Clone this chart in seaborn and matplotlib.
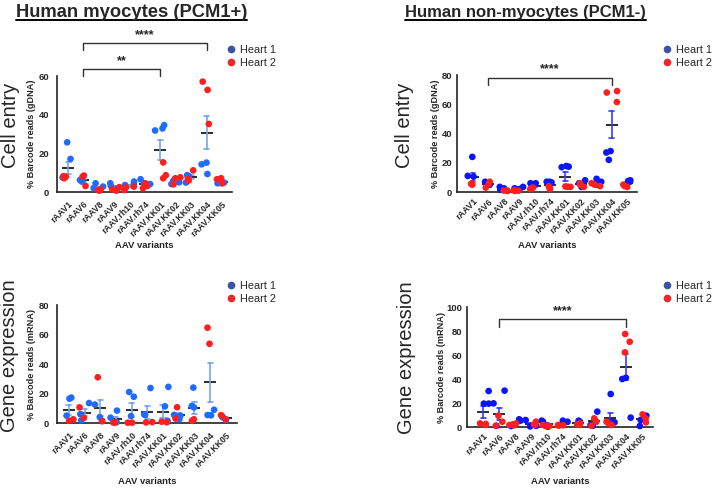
import numpy as np
import pandas as pd
import matplotlib
matplotlib.use('Agg')
import matplotlib.pyplot as plt
import seaborn as sns
from matplotlib.lines import Line2D

# ---- data ----
variants = ['rAAV1', 'rAAV6', 'rAAV8', 'rAAV9', 'rAAV.rh10', 'rAAV.rh74',
            'rAAV.KK01', 'rAAV.KK02', 'rAAV.KK03', 'rAAV.KK04', 'rAAV.KK05']

# Human myocytes, cell entry (% barcode reads, gDNA)
myo_entry_h1 = [[25.7, 17.1, 7.5], [6.2, 5.4, 5.9], [4.5, 2.8, 2.0], [4.5, 3.1, 2.0],
                [4.1, 5.4, 3.6], [6.6, 4.5, 4.1], [32.9, 34.6, 31.8], [5.9, 5.0, 4.1],
                [8.2, 8.7, 4.9], [15.2, 14.3, 9.3], [4.5, 4.6, 4.9]]
myo_entry_h2 = [[7.9, 7.1, 8.2], [8.5, 7.9, 3.1], [1.4, 1.0, 0.7], [2.5, 1.4, 0.7],
                [1.0, 2.5, 2.8], [4.5, 3.1, 2.0], [15.3, 8.7, 7.1], [7.1, 7.6, 4.0],
                [11.2, 7.1, 5.9], [57.1, 52.8, 35.2], [7.1, 6.6, 4.5]]

# Human non-myocytes, cell entry
nonmyo_entry_h1 = [[24.0, 11.0, 10.5], [7.0, 5.0, 6.0], [3.5, 2.5, 1.5], [3.5, 2.5, 2.0],
                   [6.0, 6.0, 5.0], [7.0, 7.0, 6.5], [17.3, 17.8, 17.0], [8.0, 6.0, 3.5],
                   [9.0, 7.0, 5.0], [28.0, 27.0, 22.0], [8.0, 7.5, 7.0]]
nonmyo_entry_h2 = [[5.0, 6.0, 5.5], [3.0, 7.0, 5.5], [1.0, 0.7, 1.0], [1.3, 0.9, 0.7],
                   [2.0, 2.5, 3.0], [2.0, 2.5, 4.0], [3.6, 3.5, 3.8], [6.0, 5.0, 3.5],
                   [6.0, 5.0, 4.0], [68.0, 69.0, 61.5], [5.0, 4.0, 3.5]]

# Human myocytes, gene expression (% barcode reads, mRNA)
myo_expr_h1 = [[16.5, 17.2, 5.0], [13.5, 6.0, 1.8], [12.5, 4.0, 1.5], [8.4, 3.6, 0.5],
               [21.0, 17.8, 4.7], [23.7, 5.5, 5.8], [24.5, 11.3, 1.5], [5.5, 5.0, 2.5],
               [24.0, 10.6, 11.5], [9.0, 5.2, 5.4], [4.5, 4.0, 2.0]]
myo_expr_h2 = [[1.5, 2.5], [10.6, 3.5], [31.0, 1.2], [0.3, 0.3], [0.2, 0.2], [0.4, 0.6],
               [0.5, 0.9], [10.7, 3.0], [1.6, 2.5], [64.6, 53.7], [5.3, 2.5]]

# Human non-myocytes, gene expression
nonmyo_expr_h1 = [[30.0, 19.5, 19.5], [30.3, 19.7, 1.0], [6.4, 5.3, 0.8], [5.8, 1.0, 0.5],
                  [4.4, 5.3, 0.3], [5.3, 4.4, 3.0], [5.3, 4.4, 2.5], [12.8, 1.7, 1.1],
                  [27.5, 4.4, 3.9], [41.0, 40.0, 7.8], [9.4, 5.8, 0.8]]
nonmyo_expr_h2 = [[2.5, 1.7, 3.0], [9.4, 4.4, 1.0], [3.0, 1.7, 1.4], [4.4, 2.2, 1.7],
                  [1.7, 0.8, 0.8], [1.7, 1.1, 1.4], [3.0, 2.2, 1.7], [7.2, 4.4, 1.1],
                  [3.0, 1.7, 4.4], [77.5, 71.0, 62.2], [10.5, 7.2, 3.9]]

# significance brackets: (from, to, height, label)
myo_entry_sig = [('rAAV6', 'rAAV.KK01', 63.5, '**'), ('rAAV6', 'rAAV.KK04', 77.0, '****')]
nonmyo_entry_sig = [('rAAV6', 'rAAV.KK04', 78.0, '****')]
nonmyo_expr_sig = [('rAAV6', 'rAAV.KK04', 89.7, '****')]

FONT = ['Liberation Sans', 'DejaVu Sans']
W, H = 716, 490
RED = '#ff1f1f'


def fx(x):
    return x / W


def fy(y):
    return 1 - y / H


def make_df(h1, h2):
    rows = []
    for v, a, b in zip(variants, h1, h2):
        rows += [{'variant': v, 'value': val, 'heart': 'Heart 1'} for val in a]
        rows += [{'variant': v, 'value': val, 'heart': 'Heart 2'} for val in b]
    return pd.DataFrame(rows)


def draw_panel(ax, h1, h2, ylim, yticks, ylabel, blue, errc, xlim, sig, seed,
               tlen=3.5, tpad=2):
    df = make_df(h1, h2)
    np.random.seed(seed)
    sns.stripplot(data=df, x='variant', y='value', hue='heart', order=variants,
                  palette={'Heart 1': blue, 'Heart 2': RED}, jitter=0.36, size=4.8,
                  linewidth=0, legend=False, ax=ax, zorder=3)
    sns.pointplot(data=df, x='variant', y='value', order=variants, errorbar='se',
                  capsize=0.32, linestyle='none', marker='_', markersize=9,
                  markeredgewidth=1.3, color='#1a1a1a',
                  err_kws={'color': errc, 'linewidth': 1.2}, ax=ax)
    for c in ax.collections:
        c.set_clip_on(False)

    ax.set_xlim(*xlim)
    ax.set_ylim(*ylim)
    ax.set_yticks(yticks)
    ax.set_xticks(range(len(variants)))
    ax.set_xticklabels(variants, rotation=45, ha='right', rotation_mode='anchor',
                       fontsize=6.3, fontweight='bold')
    for t in ax.get_yticklabels():
        t.set_fontweight('bold')
        t.set_fontsize(6.8)
    ax.tick_params(axis='both', length=tlen, width=1.1, color='#222222', pad=tpad)
    ax.set_xlabel('AAV variants', fontsize=6.8, fontweight='bold')
    ax.set_ylabel(ylabel, fontsize=6.6, fontweight='bold')
    for s in ['left', 'bottom']:
        ax.spines[s].set_linewidth(1.2)
        ax.spines[s].set_color('#222222')
    sns.despine(ax=ax)

    # significance brackets
    pos = {v: i for i, v in enumerate(variants)}
    drop = (ylim[1] - ylim[0]) * 0.06
    for a, b, yb, lab in sig:
        x1, x2 = pos[a], pos[b]
        ax.plot([x1, x1, x2, x2], [yb - drop, yb, yb, yb - drop], color='#333333',
                lw=1.0, clip_on=False)
        ax.text((x1 + x2) / 2, yb + drop * 0.35, lab, ha='center', va='bottom',
                fontsize=9, fontweight='bold', clip_on=False)


sns.set_style('white')
plt.rcParams['font.family'] = FONT
fig = plt.figure(figsize=(W / 100, H / 100), dpi=100)

# axes rectangles in pixels: left, top, right, bottom
boxes = [(57, 76, 232, 192), (457, 75, 637, 192), (57, 305, 237, 423), (467, 307, 653, 427)]
axes = [fig.add_axes([fx(l), fy(b), fx(r - l), (b - t) / H]) for l, t, r, b in boxes]

draw_panel(axes[0], myo_entry_h1, myo_entry_h2, (0, 60), [0, 20, 40, 60],
           '% Barcode reads (gDNA)', '#1f6bff', '#74a6ee', (-0.72, 10.65), myo_entry_sig, 1)
draw_panel(axes[1], nonmyo_entry_h1, nonmyo_entry_h2, (0, 80), [0, 20, 40, 60, 80],
           '% Barcode reads (gDNA)', '#0a14ff', '#3b3bff', (-1.04, 10.65), nonmyo_entry_sig, 2,
           tlen=2.5, tpad=1)
draw_panel(axes[2], myo_expr_h1, myo_expr_h2, (0, 80), [0, 20, 40, 60, 80],
           '% Barcode reads (mRNA)', '#1f6bff', '#74a6ee', (-0.76, 10.72), [], 3)
draw_panel(axes[3], nonmyo_expr_h1, nonmyo_expr_h2, (0, 100), [0, 20, 40, 60, 80, 100],
           '% Barcode reads (mRNA)', '#0a14ff', '#3b3bff', (-1.03, 10.71), nonmyo_expr_sig, 4,
           tlen=2.5, tpad=1)

# label positions (pixel targets)
xlab_y = [245, 245, 481, 481]
ylab_x = [36, 440, 36, 446]
for ax, (l, t, r, b), yl, xl in zip(axes, boxes, xlab_y, ylab_x):
    ax.xaxis.set_label_coords(0.5, (b - yl) / (b - t), transform=ax.transAxes)
    ax.xaxis.label.set_va('center')
    ax.yaxis.set_label_coords((xl - l) / (r - l), 0.5)

# legends
handles = [Line2D([], [], marker='o', ls='none', color='#3a52a8', markersize=4.5),
           Line2D([], [], marker='o', ls='none', color='#e8282b', markersize=4.5)]
leg_pos = [(226, 45), (662, 45), (226, 281), (662, 281)]
for ax, (lx, ly) in zip(axes, leg_pos):
    ax.legend(handles=handles, labels=['Heart 1', 'Heart 2'], loc='upper left',
              bbox_to_anchor=(fx(lx), fy(ly)), bbox_transform=fig.transFigure,
              frameon=False, fontsize=7.8, handletextpad=0.3, labelspacing=0.3,
              borderpad=0, borderaxespad=0, handlelength=1.0)

# big row labels
fig.text(fx(10), fy(125), 'Cell entry', rotation=90, ha='center', va='center', fontsize=14.5)
fig.text(fx(405), fy(125), 'Cell entry', rotation=90, ha='center', va='center', fontsize=14.5)
fig.text(fx(10), fy(356), 'Gene expression', rotation=90, ha='center', va='center', fontsize=14.5)
fig.text(fx(406), fy(358), 'Gene expression', rotation=90, ha='center', va='center', fontsize=14.5)

# titles with underline
titles = [fig.text(fx(16), fy(17), 'Human myocytes (PCM1+)', fontsize=13.2, fontweight='bold',
                   va='baseline'),
          fig.text(fx(405), fy(17), 'Human non-myocytes (PCM1-)', fontsize=12,
                   fontweight='bold', va='baseline')]
fig.canvas.draw()
renderer = fig.canvas.get_renderer()
for t in titles:
    bb = t.get_window_extent(renderer)
    fig.add_artist(Line2D([bb.x0 / W, bb.x1 / W], [fy(20.5), fy(20.5)],
                          color='black', lw=1.4, transform=fig.transFigure))

fig.savefig('out.png', dpi=100)
